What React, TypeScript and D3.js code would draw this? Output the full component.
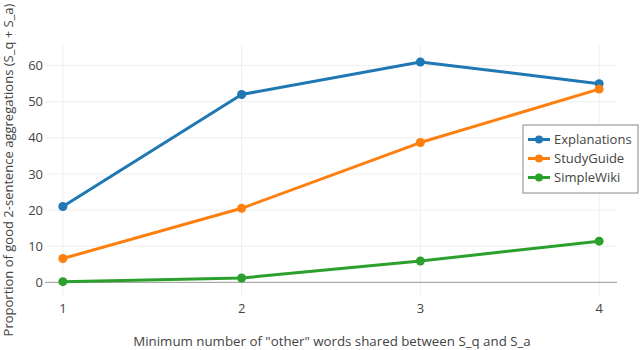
import React from "react";
import * as d3 from "d3";

const xValues = [1, 2, 3, 4];
const explanations = [21, 52, 61, 55];
const studyGuide = [6.6, 20.5, 38.7, 53.5];
const simpleWiki = [0.2, 1.2, 5.9, 11.4];
const seriesNames = ["Explanations", "StudyGuide", "SimpleWiki"];
const seriesColors = ["#1f77b4", "#ff7f0e", "#2ca02c"];
const yTicks = [0, 10, 20, 30, 40, 50, 60];
const xTicks = [1, 2, 3, 4];
const xTitle = 'Minimum number of "other" words shared between S_q and S_a';
const yTitle = "Proportion of good 2-sentence aggregations (S_q + S_a)";

export default function App() {
  const W = 640, H = 350;
  const left = 45, right = 617, top = 45, bottom = 295;
  const x = d3.scaleLinear().domain([0.9, 4.1]).range([left, right]);
  const y = d3.scaleLinear().domain([-3.5, 65.7]).range([bottom, top]);
  const all = [explanations, studyGuide, simpleWiki];
  const line = d3.line<number>().x((_, i) => x(xValues[i])).y((d) => y(d));
  const font = "'Open Sans', sans-serif";
  return (
    <svg width={W} height={H} style={{ position: "absolute", left: 0, top: 0, background: "#fff" }} fontFamily={font}>
      {xTicks.map((t) => (
        <line key={"gx" + t} x1={x(t)} x2={x(t)} y1={top} y2={bottom} stroke="#eee" strokeWidth={1} />
      ))}
      {yTicks.filter((t) => t !== 0).map((t) => (
        <line key={"gy" + t} x1={left} x2={right} y1={y(t)} y2={y(t)} stroke="#eee" strokeWidth={1} />
      ))}
      <line x1={left} x2={right} y1={y(0)} y2={y(0)} stroke="#999" strokeWidth={1} />
      {yTicks.map((t) => (
        <text key={"ty" + t} x={left - 2} y={y(t)} dy="0.35em" textAnchor="end" fontSize={13} fill="#444">{t}</text>
      ))}
      {xTicks.map((t) => (
        <text key={"tx" + t} x={x(t)} y={313} textAnchor="middle" fontSize={13} fill="#444">{t}</text>
      ))}
      {all.map((s, k) => (
        <g key={"s" + k}>
          <path d={line(s) || ""} fill="none" stroke={seriesColors[k]} strokeWidth={3} strokeLinejoin="round" />
          {s.map((v, i) => (
            <circle key={i} cx={x(xValues[i])} cy={y(v)} r={4.5} fill={seriesColors[k]} />
          ))}
        </g>
      ))}
      <text x={332} y={346} textAnchor="middle" fontSize={13.3} fill="#444">{xTitle}</text>
      <text transform={`translate(13,${(top + bottom) / 2}) rotate(-90)`} textAnchor="middle" fontSize={13} fill="#444">{yTitle}</text>
      <g>
        <rect x={523} y={125} width={115} height={68} fill="#fff" stroke="#888" strokeWidth={1} />
        {seriesNames.map((n, k) => {
          const yy = 139.5 + k * 19;
          return (
            <g key={"l" + k}>
              <line x1={528} x2={550} y1={yy} y2={yy} stroke={seriesColors[k]} strokeWidth={3} />
              <circle cx={539} cy={yy} r={4} fill={seriesColors[k]} />
              <text x={554} y={yy} dy="0.35em" fontSize={13} fill="#444">{n}</text>
            </g>
          );
        })}
      </g>
    </svg>
  );
}
